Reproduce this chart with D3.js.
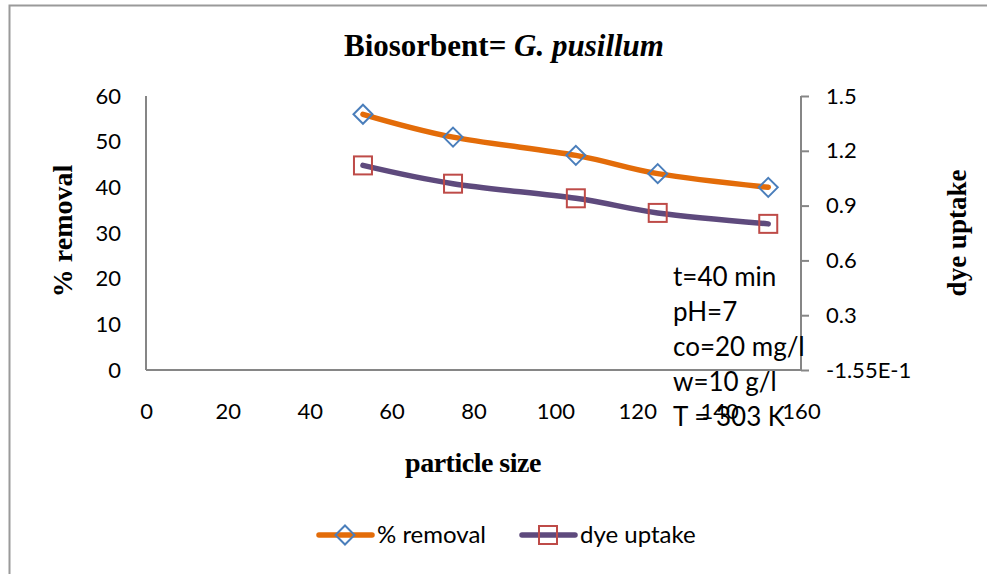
<!DOCTYPE html>
<html>
<head>
<meta charset="utf-8">
<script src="https://cdn.jsdelivr.net/npm/d3@7"></script>
<style>
  body { margin: 0; background: #fff; }
  .tick text { font-family: Lato, "Open Sans", sans-serif; }
</style>
</head>
<body>
<svg id="chart"></svg>
<script>
var width = 987;
var height = 574;

// data
var particleSize = [53, 75, 105, 125, 152];
var removal = [56, 51, 47, 43, 40];
var dyeUptake = [1.12, 1.02, 0.94, 0.86, 0.80];

var xTicks = [0, 20, 40, 60, 80, 100, 120, 140, 160];
var leftTicks = [0, 10, 20, 30, 40, 50, 60];
var rightTicks = [0, 0.3, 0.6, 0.9, 1.2, 1.5];
var rightTickLabels = ["-1.55E-1", "0.3", "0.6", "0.9", "1.2", "1.5"];
var notes = ["t=40 min", "pH=7", "co=20 mg/l", "w=10 g/l", "T = 303 K"];

var margin = {left: 146, right: 801, top: 96, bottom: 370};

var svg = d3.select('#chart')
    .attr("width", width)
    .attr("height", height);

// outer chart frame
svg.append('rect')
    .attr("x", 9.5).attr("y", 5.5)
    .attr("width", 990).attr("height", 600)
    .attr("fill", "none")
    .attr("stroke", "#9a9a9a")
    .attr("stroke-width", 2);

var xscale = d3.scaleLinear().domain([0, 160]).range([margin.left, margin.right]);
var yLeft = d3.scaleLinear().domain([0, 60]).range([margin.bottom, margin.top]);
var yRight = d3.scaleLinear().domain([0, 1.5]).range([margin.bottom, margin.top]);

var axisColor = "#868686";

// bottom axis (labels sit well below the line, as in the original)
var xAxis = d3.axisBottom(xscale).tickValues(xTicks).tickSize(0).tickPadding(33).tickFormat(d => d);
var gx = svg.append('g')
    .attr("transform", `translate(0,${margin.bottom})`)
    .call(xAxis);

// left axis
var gl = svg.append('g')
    .attr("transform", `translate(${margin.left},0)`)
    .call(d3.axisLeft(yLeft).tickValues(leftTicks).tickSize(0).tickPadding(25));

// right axis
var gr = svg.append('g')
    .attr("transform", `translate(${margin.right},0)`)
    .call(d3.axisRight(yRight).tickValues(rightTicks).tickSize(8).tickPadding(17)
        .tickFormat((d, i) => rightTickLabels[i]));

[gx, gl, gr].forEach(g => {
    g.select('.domain').attr("stroke", axisColor).attr("stroke-width", 2);
    g.selectAll('.tick line').attr("stroke", axisColor).attr("stroke-width", 2);
    g.selectAll('.tick text').attr("fill", "#000").style("font-size", "22px");
});
gx.select('.domain').attr("d", `M${margin.left},0H${margin.right}`);
gl.select('.domain').attr("d", `M0,${margin.top}V${margin.bottom}`);
gr.select('.domain').attr("d", `M0,${margin.top}V${margin.bottom}`);

// lines
var curve = d3.curveCatmullRom.alpha(0);
var removalLine = d3.line()
    .x((d, i) => xscale(particleSize[i]))
    .y(d => yLeft(d))
    .curve(curve);
var uptakeLine = d3.line()
    .x((d, i) => xscale(particleSize[i]))
    .y(d => yRight(d))
    .curve(curve);

var orange = "#E36C09";
var purple = "#5E4A7D";
var blue = "#4A7EBB";
var red = "#BE4B48";

svg.append('path')
    .attr("d", removalLine(removal))
    .attr("fill", "none")
    .attr("stroke", orange)
    .attr("stroke-width", 5.5)
    .attr("stroke-linecap", "round");

svg.append('path')
    .attr("d", uptakeLine(dyeUptake))
    .attr("fill", "none")
    .attr("stroke", purple)
    .attr("stroke-width", 5.5)
    .attr("stroke-linecap", "round");

var diamond = "M0,-9.5L9.5,0L0,9.5L-9.5,0Z";
svg.selectAll('.diamond')
    .data(removal)
    .enter()
    .append('path')
    .classed('diamond', true)
    .attr("transform", (d, i) => `translate(${xscale(particleSize[i])},${yLeft(d)})`)
    .attr("d", diamond)
    .attr("fill", "none")
    .attr("stroke", blue)
    .attr("stroke-width", 2);

svg.selectAll('.square')
    .data(dyeUptake)
    .enter()
    .append('rect')
    .classed('square', true)
    .attr("x", (d, i) => xscale(particleSize[i]) - 9)
    .attr("y", d => yRight(d) - 9)
    .attr("width", 18)
    .attr("height", 18)
    .attr("fill", "none")
    .attr("stroke", red)
    .attr("stroke-width", 2);

// title
var serif = "'Liberation Serif', serif";
var title = svg.append('text')
    .attr("x", 504)
    .attr("y", 56)
    .attr("text-anchor", "middle")
    .style("font-family", serif)
    .style("font-weight", "bold")
    .style("font-size", "31px");
title.append('tspan').text("Biosorbent= ");
title.append('tspan').style("font-style", "italic").text("G. pusillum");

// axis titles
svg.append('text')
    .attr("transform", "translate(72,231) rotate(-90)")
    .attr("text-anchor", "middle")
    .style("font-family", serif)
    .style("font-weight", "bold")
    .style("font-size", "28px")
    .text("% removal");

svg.append('text')
    .attr("transform", "translate(966,233) rotate(-90)")
    .attr("text-anchor", "middle")
    .style("font-family", serif)
    .style("font-weight", "bold")
    .style("font-size", "27px")
    .text("dye uptake");

svg.append('text')
    .attr("x", 473)
    .attr("y", 472)
    .attr("text-anchor", "middle")
    .style("font-family", serif)
    .style("font-weight", "bold")
    .style("font-size", "28px")
    .style("letter-spacing", "-0.5px")
    .text("particle size");

// condition notes
svg.append('g')
    .selectAll('text')
    .data(notes)
    .enter()
    .append('text')
    .attr("x", 673)
    .attr("y", (d, i) => 286 + i * 35)
    .style("font-family", "Lato, 'Open Sans', sans-serif")
    .style("font-size", "26px")
    .attr("fill", "#000")
    .text(d => d);

// legend
var legend = svg.append('g').attr("transform", "translate(0,535)");
var legendItems = [
    {name: "% removal", color: orange, marker: "diamond", x: 317},
    {name: "dye uptake", color: purple, marker: "square", x: 520}
];
legendItems.forEach(item => {
    var g = legend.append('g').attr("transform", `translate(${item.x},0)`);
    g.append('line')
        .attr("x1", 2).attr("x2", 55)
        .attr("stroke", item.color)
        .attr("stroke-width", 5.5)
        .attr("stroke-linecap", "round");
    if (item.marker === "diamond") {
        g.append('path')
            .attr("transform", "translate(28,0)")
            .attr("d", diamond)
            .attr("fill", "none")
            .attr("stroke", blue)
            .attr("stroke-width", 2);
    } else {
        g.append('rect')
            .attr("x", 19).attr("y", -9)
            .attr("width", 18).attr("height", 18)
            .attr("fill", "none")
            .attr("stroke", red)
            .attr("stroke-width", 2);
    }
    g.append('text')
        .attr("x", 60)
        .attr("y", 8)
        .style("font-family", "Lato, 'Open Sans', sans-serif")
        .style("font-size", "24px")
        .text(item.name);
});
</script>
</body>
</html>
